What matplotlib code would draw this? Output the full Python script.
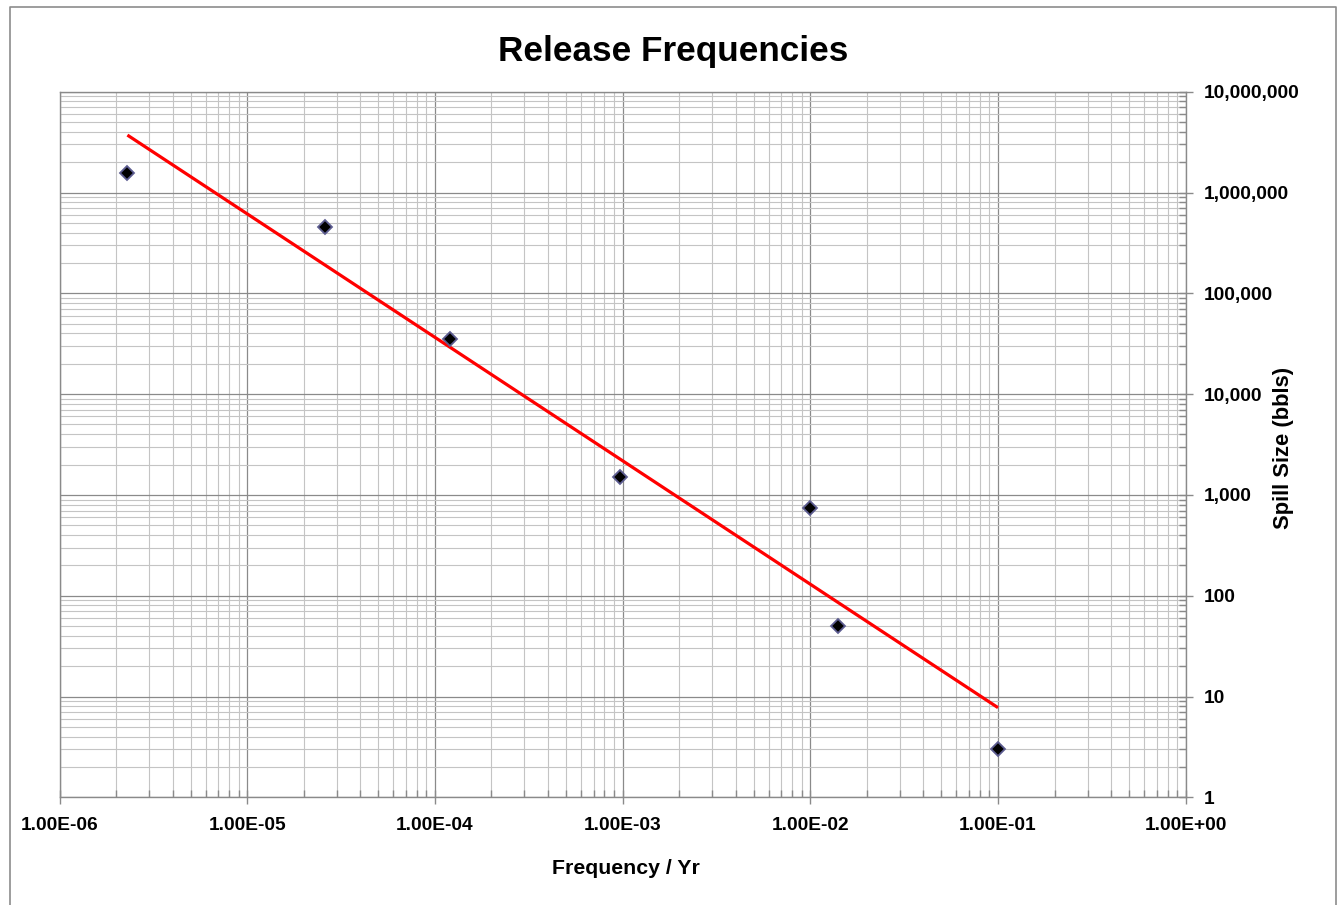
import numpy as np
import matplotlib
matplotlib.use("Agg")
import matplotlib.pyplot as plt
from matplotlib.ticker import FixedLocator, FuncFormatter, NullFormatter
from matplotlib.lines import Line2D

# Release frequency (per year) vs spill size (bbls)
frequency = [2.3e-6, 2.6e-5, 1.2e-4, 9.7e-4, 1.0e-2, 1.4e-2, 1.0e-1]
spill_size = [1.55e6, 4.5e5, 35000, 1500, 740, 50, 3]

title = "Release Frequencies"
x_label = "Frequency / Yr"
y_label = "Spill Size (bbls)"

plt.rcParams["font.family"] = ["Liberation Sans", "DejaVu Sans"]
plt.rcParams["font.weight"] = "bold"

W, H = 1337, 905
fig = plt.figure(figsize=(W / 100, H / 100), dpi=100)
fig.patch.set_facecolor("white")

# outer chart border (left, top, right edges)
bx0, bx1, by = 9.5 / W, 1335.5 / W, 1 - 7.5 / H
fig.lines.append(Line2D([bx0, bx0, bx1, bx1], [0, by, by, 0],
                        transform=fig.transFigure, color="#8c8c8c", linewidth=1.2))

left, right, top, bottom = 59.5, 1185.7, 91.7, 797.3
ax = fig.add_axes([left / W, 1 - bottom / H, (right - left) / W, (bottom - top) / H])
ax.set_xscale("log")
ax.set_yscale("log")
xexp = (-6, 0)
yexp = (0, 7)
ax.set_xlim(10.0 ** xexp[0], 10.0 ** xexp[1])
ax.set_ylim(10.0 ** yexp[0], 10.0 ** yexp[1])


def decade_ticks(lo, hi):
    major = [10.0 ** e for e in range(lo, hi + 1)]
    minor = [m * 10.0 ** e for e in range(lo, hi) for m in range(2, 10)]
    return major, minor


xmaj, xmin = decade_ticks(*xexp)
ymaj, ymin = decade_ticks(*yexp)
ax.xaxis.set_major_locator(FixedLocator(xmaj))
ax.xaxis.set_minor_locator(FixedLocator(xmin))
ax.yaxis.set_major_locator(FixedLocator(ymaj))
ax.yaxis.set_minor_locator(FixedLocator(ymin))

# grid
ax.grid(which="minor", color="#c4c4c4", linewidth=0.8)
ax.grid(which="major", color="#8a8a8a", linewidth=0.9)
ax.set_axisbelow(True)

for s in ax.spines.values():
    s.set_color("#8a8a8a")
    s.set_linewidth(1.0)

ax.xaxis.set_major_formatter(FuncFormatter(lambda v, p: f"{v:.2E}"))
ax.yaxis.set_major_formatter(FuncFormatter(lambda v, p: f"{v:,.0f}"))
ax.xaxis.set_minor_formatter(NullFormatter())
ax.yaxis.set_minor_formatter(NullFormatter())

ax.yaxis.tick_right()
ax.tick_params(axis="x", which="major", direction="inout", length=10, width=1,
               color="#8a8a8a", labelsize=13.8, pad=9)
ax.tick_params(axis="x", which="minor", direction="in", length=5, width=1, color="#8a8a8a")
ax.tick_params(axis="y", which="major", direction="inout", length=10, width=1,
               color="#8a8a8a", labelsize=13.8, pad=8, left=False, right=True)
ax.tick_params(axis="y", which="minor", direction="in", length=5, width=1,
               color="#8a8a8a", left=False, right=True)
for lbl in ax.get_xticklabels() + ax.get_yticklabels():
    lbl.set_fontweight("bold")

# power-law trendline fitted in log-log space
lx, ly = np.log10(frequency), np.log10(spill_size)
slope, intercept = np.polyfit(lx, ly, 1)
fx = np.array([min(frequency), max(frequency)])
ax.plot(fx, 10 ** (intercept + slope * np.log10(fx)), color="#ff0000",
        linewidth=2.3, solid_capstyle="butt", zorder=3)

ax.plot(frequency, spill_size, linestyle="none", marker="D", markersize=7.5,
        markerfacecolor="black", markeredgecolor="#5c5c90", markeredgewidth=1.3,
        zorder=4)

fig.text(673 / W, 1 - 51 / H, title, ha="center", va="center",
         fontsize=25.3, fontweight="bold")
fig.text(626 / W, 1 - 868 / H, x_label, ha="center", va="center",
         fontsize=15.3, fontweight="bold")
fig.text(1284 / W, 1 - 448 / H, y_label, ha="center", va="center",
         rotation=90, fontsize=15.8, fontweight="bold")

fig.savefig("out.png", dpi=100)
